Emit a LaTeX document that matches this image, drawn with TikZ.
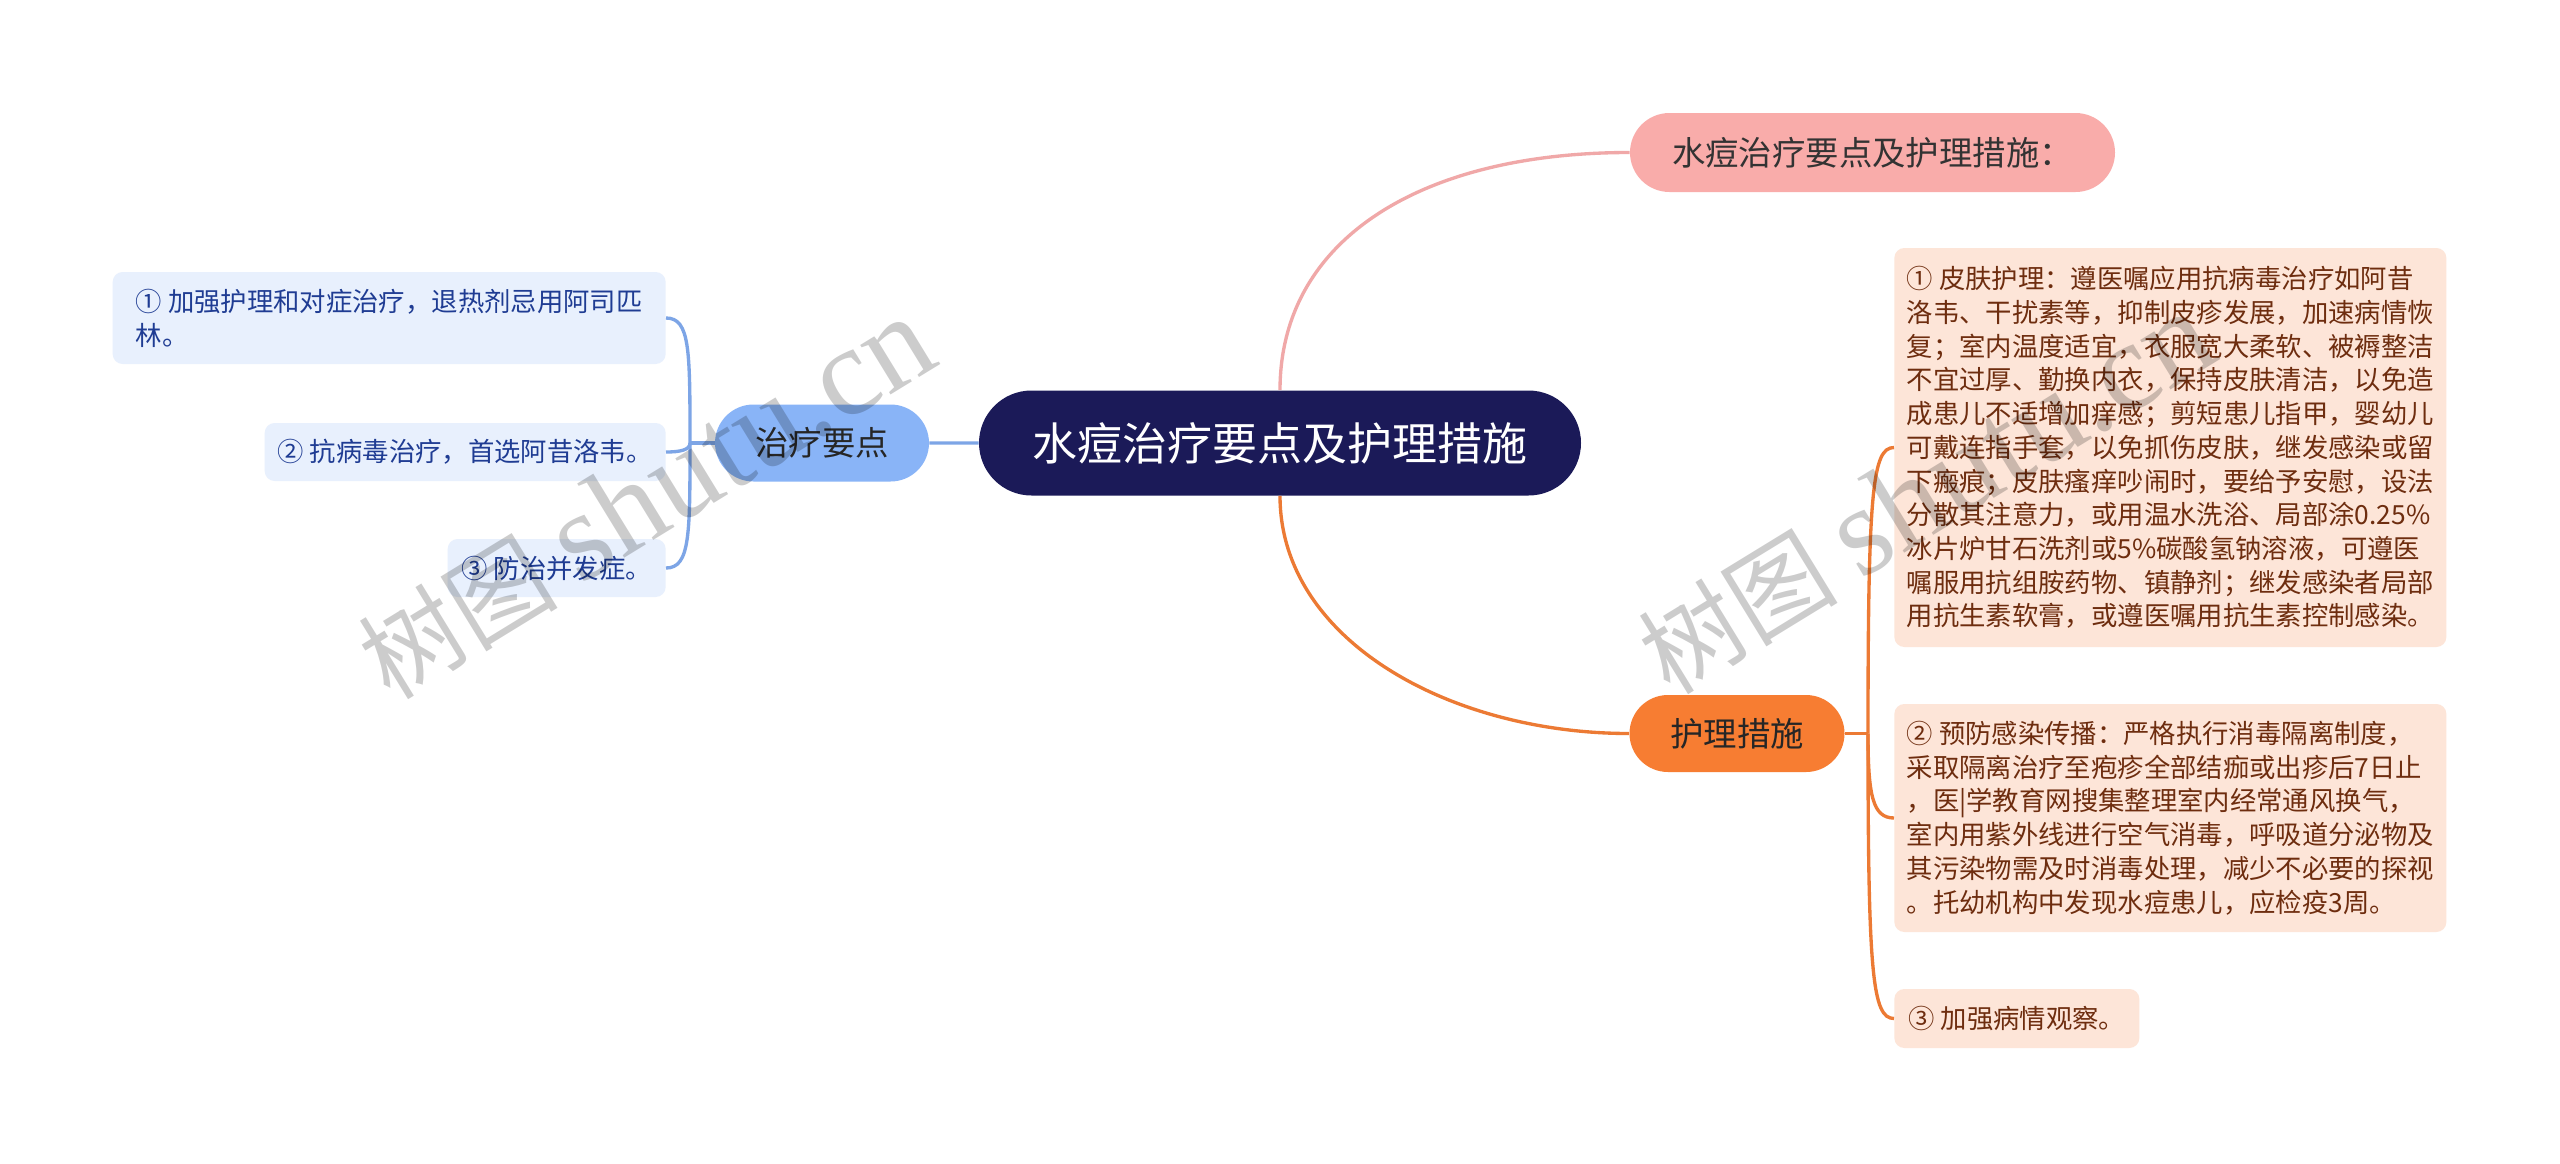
\documentclass[tikz,border=0pt]{standalone}
\usepackage{fontspec}
\setmainfont{Noto Sans CJK SC}
\newfontfamily\wmfont{Liberation Serif}
\usepackage{tikz}
\usetikzlibrary{shapes.misc}
\definecolor{rootnavy}{HTML}{1B1A58}
\definecolor{pinkfill}{HTML}{F9ACAA}
\definecolor{pinkline}{HTML}{F0A8A8}
\definecolor{orangefill}{HTML}{F77D32}
\definecolor{orangeline}{HTML}{EC7A34}
\definecolor{bluefill}{HTML}{89B4F7}
\definecolor{blueline}{HTML}{7DA5E6}
\definecolor{peach}{HTML}{FDE5D8}
\definecolor{brownink}{HTML}{6E2D0F}
\definecolor{paleblue}{HTML}{E8F0FD}
\definecolor{blueink}{HTML}{1F3C93}

\begin{document}
\begin{tikzpicture}[
  pill/.style={rounded rectangle, inner sep=0pt, font=\fontsize{19pt}{23pt}\selectfont},
  leaf/.style={rounded corners=0.2cm, inner sep=0pt, align=left, font=\fontsize{15pt}{19.2pt}\selectfont},
  tipleaf/.style={leaf, fill=paleblue, text=blueink, minimum height=1.16cm, anchor=east},
  careleaf/.style={leaf, fill=peach, text=brownink, minimum width=11.04cm, anchor=west},
  link/.style={line width=1.9pt},
  stamp/.style={rotate=31.5, anchor=base west, text=black, text opacity=0.2, font=\fontsize{57pt}{62pt}\selectfont}
]
\useasboundingbox[fill=white] (0,0) rectangle (51.2,-23.26);
\node[pill, fill=rootnavy, text=white, minimum width=12.04cm, minimum height=2.1cm, font=\fontsize{25.6pt}{30pt}\selectfont] (root) at (25.6,-8.86) {水痘治疗要点及护理措施};
\node[pill, fill=bluefill, text=black!85, minimum width=4.28cm, minimum height=1.54cm] (tips) at (16.44,-8.86) {治疗要点};
\node[pill, fill=pinkfill, text=black!80, minimum width=9.7cm, minimum height=1.58cm] (title) at (37.45,-3.05) {水痘治疗要点及护理措施：};
\node[pill, fill=orangefill, text=black!85, minimum width=4.3cm, minimum height=1.54cm] (care) at (34.74,-14.67) {护理措施};
\node[tipleaf, minimum width=11.06cm, minimum height=1.84cm] (t1) at (13.32,-6.36) {① 加强护理和对症治疗，退热剂忌用阿司匹\\林。};
\node[tipleaf, minimum width=8.02cm] (t2) at (13.32,-9.04) {② 抗病毒治疗，首选阿昔洛韦。};
\node[tipleaf, minimum width=4.36cm] (t3) at (13.32,-11.36) {③ 防治并发症。};
\node[careleaf, minimum height=7.98cm] (c1) at (37.88,-8.95) {① 皮肤护理：遵医嘱应用抗病毒治疗如阿昔\\洛韦、干扰素等，抑制皮疹发展，加速病情恢\\复；室内温度适宜，衣服宽大柔软、被褥整洁\\不宜过厚、勤换内衣，保持皮肤清洁，以免造\\成患儿不适增加痒感；剪短患儿指甲，婴幼儿\\可戴连指手套，以免抓伤皮肤，继发感染或留\\下瘢痕；皮肤瘙痒吵闹时，要给予安慰，设法\\分散其注意力，或用温水洗浴、局部涂0.25\%\\冰片炉甘石洗剂或5\%碳酸氢钠溶液，可遵医\\嘱服用抗组胺药物、镇静剂；继发感染者局部\\用抗生素软膏，或遵医嘱用抗生素控制感染。};
\node[careleaf, minimum height=4.56cm] (c2) at (37.88,-16.36) {② 预防感染传播：严格执行消毒隔离制度，\\采取隔离治疗至疱疹全部结痂或出疹后7日止\\，医|学教育网搜集整理室内经常通风换气，\\室内用紫外线进行空气消毒，呼吸道分泌物及\\其污染物需及时消毒处理，减少不必要的探视\\。托幼机构中发现水痘患儿，应检疫3周。};
\node[careleaf, minimum width=4.9cm, minimum height=1.18cm] (c3) at (37.88,-20.37) {③ 加强病情观察。};
\coordinate (tj) at (13.8,-8.86);
\coordinate (cj) at (37.36,-14.67);
\draw[link, blueline] (root) -- (tips);
\draw[link, blueline] (tips.west) -- (tj);
\draw[link, blueline] (tj) .. controls (13.8,-7.0) and (13.8,-6.36) .. (t1.east);
\draw[link, blueline] (tj) .. controls (13.8,-9.0) and (13.6,-9.04) .. (t2.east);
\draw[link, blueline] (tj) .. controls (13.8,-10.7) and (13.8,-11.36) .. (t3.east);
\draw[link, pinkline] (root.north) .. controls (25.6,-4.8) and (28.4,-3.05) .. (title.west);
\draw[link, orangeline] (root.south) .. controls (25.6,-12.8) and (29.0,-14.67) .. (care.west);
\draw[link, orangeline] (care.east) -- (cj);
\draw[link, orangeline] (cj) .. controls (37.36,-9.8) and (37.45,-8.95) .. (c1.west);
\draw[link, orangeline] (cj) .. controls (37.36,-15.9) and (37.45,-16.36) .. (c2.west);
\draw[link, orangeline] (cj) .. controls (37.36,-19.5) and (37.45,-20.37) .. (c3.west);
\node[stamp] (wm1) at (7.7,-14.1) {树图 {\wmfont\fontsize{72pt}{76pt}\selectfont shutu.cn}};
\node[stamp] (wm2) at (33.3,-14.0) {树图 {\wmfont\fontsize{72pt}{76pt}\selectfont shutu.cn}};
\end{tikzpicture}
\end{document}
